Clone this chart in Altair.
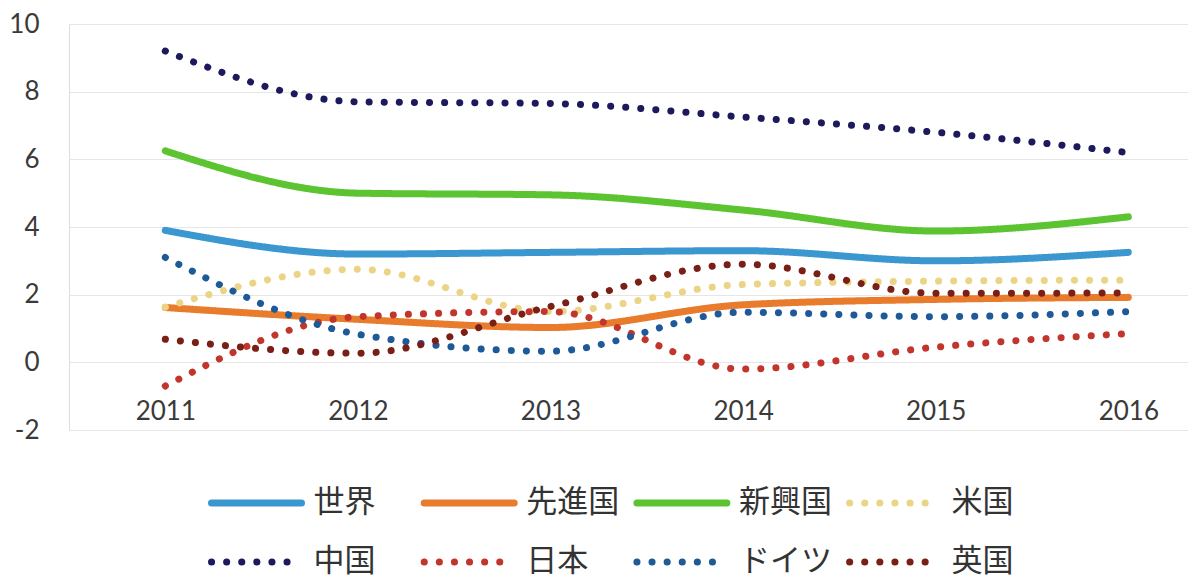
import altair as alt
import pandas as pd

years = [2011, 2012, 2013, 2014, 2015, 2016]
series_names = ["世界", "先進国", "新興国", "米国", "中国", "日本", "ドイツ", "英国"]

world = [3.9, 3.2, 3.25, 3.3, 3.0, 3.25]
advanced = [1.62, 1.27, 1.03, 1.7, 1.86, 1.92]
emerging = [6.25, 5.0, 4.95, 4.5, 3.88, 4.3]
usa = [1.63, 2.75, 1.5, 2.3, 2.4, 2.43]
china = [9.2, 7.7, 7.65, 7.25, 6.8, 6.2]
japan = [-0.7, 1.35, 1.5, -0.2, 0.45, 0.85]
germany = [3.1, 0.83, 0.33, 1.48, 1.35, 1.5]
uk = [0.68, 0.27, 1.65, 2.9, 2.04, 2.05]

y_ticks = [-2, 0, 2, 4, 6, 8, 10]

colors = ["#3b97d0", "#e97b2c", "#5cc430", "#ecd487",
          "#1c1a5c", "#c2352d", "#1f5a98", "#7a1f15"]
dashes = [[1, 0], [1, 0], [1, 0], [0.1, 15],
          [0.1, 15], [0.1, 15], [0.1, 15], [0.1, 15]]

values = [world, advanced, emerging, usa, china, japan, germany, uk]
rows = []
for name, vals in zip(series_names, values):
    for yr, v in zip(years, vals):
        rows.append({"year": yr, "series": name, "value": v})
df = pd.DataFrame(rows)

# legend layout (pixels relative to the plot area)
LEG_X0 = 142.5
COL_W = 212.7
SYM_LEN = 90
LABEL_DX = 102
ROW_Y = [479, 538]
leg_rows = []
for i, name in enumerate(series_names):
    c, r = i % 4, i // 4
    x0 = LEG_X0 + c * COL_W
    leg_rows.append({"series": name, "lx0": x0, "lx1": x0 + SYM_LEN,
                     "tx": x0 + LABEL_DX, "ly": ROW_Y[r]})
leg_df = pd.DataFrame(leg_rows)

color_enc = alt.Color("series:N", scale=alt.Scale(domain=series_names, range=colors),
                      legend=None)
dash_enc = alt.StrokeDash("series:N", scale=alt.Scale(domain=series_names, range=dashes),
                          legend=None)

lines = alt.Chart(df).mark_line(
    strokeWidth=7, strokeCap="round", interpolate="monotone"
).encode(
    x=alt.X("year:Q",
            scale=alt.Scale(domain=[2010.5, 2016.31], nice=False, zero=False),
            axis=alt.Axis(values=years, format="d", title=None, offset=-34,
                          labelPadding=2, tickSize=0, domain=False, grid=False,
                          labelFont="Lato", labelFontSize=26, labelColor="#3a3a3a")),
    y=alt.Y("value:Q",
            scale=alt.Scale(domain=[-2, 10], nice=False, zero=False),
            axis=alt.Axis(values=y_ticks, title=None, tickSize=0, domain=False,
                          labelExpr="datum.value + ''",
                          labelPadding=30, labelFont="Lato", labelFontSize=26,
                          labelColor="#3a3a3a", gridColor="#e6e6e6", gridWidth=1)),
    color=color_enc,
    strokeDash=dash_enc,
)

leg_sym = alt.Chart(leg_df).mark_rule(strokeWidth=7, strokeCap="round").encode(
    x=alt.X("lx0:Q", scale=None, axis=None),
    x2="lx1:Q",
    y=alt.Y("ly:Q", scale=None, axis=None),
    color=color_enc,
    strokeDash=dash_enc,
)

leg_txt = alt.Chart(leg_df).mark_text(
    align="left", baseline="middle", font="Noto Sans CJK JP", fontSize=31,
    color="#333333"
).encode(
    x=alt.X("tx:Q", scale=None, axis=None),
    y=alt.Y("ly:Q", scale=None, axis=None),
    text="series:N",
)

chart = alt.layer(lines, leg_sym, leg_txt).properties(
    width=1119, height=406,
    autosize=alt.AutoSizeParams(type="none"),
    padding={"left": 69, "top": 24, "right": 0, "bottom": 152},
).configure_view(stroke=None).configure(background="white")

chart.save("out.html", embed_options={"renderer": "svg", "actions": False})
